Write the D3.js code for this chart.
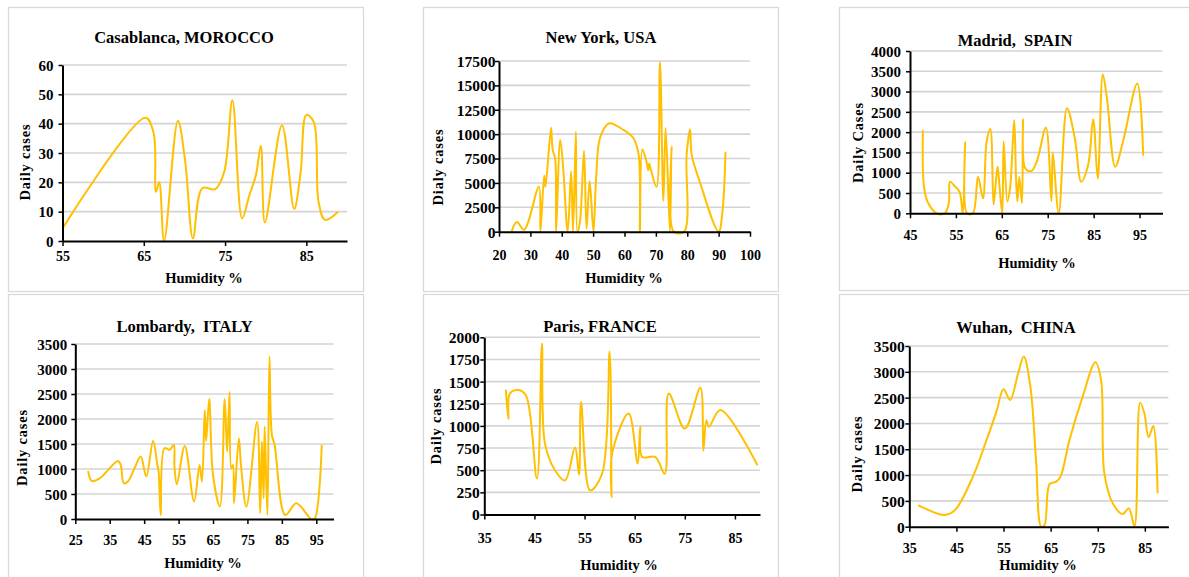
<!DOCTYPE html>
<html><head><meta charset="utf-8">
<script src="https://cdn.jsdelivr.net/npm/d3@7"></script>
<style>
body{margin:0;background:#fff;}
svg text{font-family:"Liberation Serif","Times New Roman",serif;font-weight:bold;fill:#000;}
</style></head><body>
<svg id="chart" width="1189" height="577"></svg>
<script>
// ---------------- DATA ----------------
const casablancaHumidity = [55, 65.2, 66.2, 66.5, 66.9, 67.5, 69.2, 70.1, 71.05, 72.2, 73.8, 74.9, 75.9, 77.1, 78, 78.8, 79.4, 79.9, 82, 83.5, 84.3, 85, 85.9, 86.5, 87.3, 88.9];
const casablancaCases    = [4.3, 42, 37, 16.8, 20, 0, 41, 27, 0.9, 18, 17.7, 23.6, 48, 7.7, 15.7, 22.5, 32.5, 6.3, 39.5, 10.9, 23.6, 43, 40.7, 13.4, 7.2, 10];

const newYorkHumidity = [24, 25.7, 28, 32.7, 33.2, 34.4, 34.8, 36.6, 37.1, 37.9, 38.2, 39.5, 40.4, 41.9, 43, 43.6, 44.5, 45, 45.8, 47.1, 47.9, 48.9, 50.1, 51, 52.2, 55, 59.6, 62.8, 64.5, 64.9, 65.7, 67, 67.6, 67.9, 68.3, 70.2, 71.3, 72.4, 73.1, 74.5, 75, 75.7, 79, 79.8, 80.9, 81.4, 83.8, 90, 91.2, 92.2];
const newYorkCases    = [0, 1000, 200, 4600, 0, 5750, 4600, 10650, 8400, 7500, 0, 9400, 6800, 0, 6200, 0, 10250, 0, 1000, 8300, 300, 5200, 0, 5800, 9600, 11100, 10450, 9600, 7900, 0, 8450, 7200, 6300, 7000, 6500, 4600, 17400, 3150, 10650, 0, 8700, 0, 0, 7900, 10500, 7900, 5300, 0, 2000, 8200];

const madridHumidity = [47.8, 48, 48.8, 50.8, 52.6, 53.5, 53.7, 54.8, 55.8, 56.5, 57, 57.4, 58.7, 59.8, 60.9, 61.7, 62.5, 63.2, 63.8, 64.1, 64.5, 65.1, 65.4, 66.2, 66.8, 67.7, 68.1, 68.4, 68.8, 69.4, 69.6, 70.1, 71.4, 72.6, 74.6, 75.8, 76.1, 77.4, 79.2, 80.9, 82.3, 83.8, 84.9, 85.9, 87, 87.9, 89.7, 91.4, 94.5, 95.8];
const madridCases    = [2050, 700, 290, 0, 0, 290, 780, 660, 530, 0, 1750, 0, 0, 900, 370, 1770, 2080, 220, 900, 1150, 660, 0, 1770, 290, 620, 2300, 860, 290, 900, 250, 2320, 1110, 1040, 1270, 2110, 300, 1500, 0, 2590, 1850, 780, 1190, 2320, 850, 3420, 2830, 1150, 1770, 3200, 1420];

const lombardyHumidity = [28.7, 29.8, 32.1, 37.4, 38.2, 39.1, 40.3, 42.2, 44, 45.6, 47.6, 48.8, 49.2, 49.8, 50.9, 52.4, 53.6, 53.8, 54.5, 56.8, 59.5, 61.1, 61.8, 62.6, 63, 63.9, 65, 67, 68.4, 69.1, 69.8, 70.3, 70.8, 71.1, 72.5, 73.2, 74.7, 77.8, 78.7, 79.2, 79.7, 80, 80.8, 81.4, 82.1, 82.9, 86, 89.2, 93.5, 94.5, 96.6];
const lombardyCases    = [960, 760, 815, 1160, 1080, 715, 750, 1015, 1250, 850, 1560, 1100, 950, 80, 1415, 1385, 1480, 1050, 695, 1460, 350, 1080, 750, 2180, 1560, 2400, 880, 250, 2400, 1350, 2540, 1015, 1080, 315, 1615, 1015, 250, 1940, 115, 1550, 415, 1850, 80, 3250, 1680, 1480, 80, 315, 0, 0, 1480];

const parisHumidity = [39.3, 39.8, 40.1, 41.8, 43.3, 45.5, 46.5, 47.1, 49.1, 51.1, 53.1, 53.9, 54.3, 56.1, 58.5, 60, 60.4, 60.5, 63.8, 65.6, 66.1, 66.5, 69.1, 71, 71.8, 75, 78.1, 78.7, 79.3, 79.8, 82.1, 89.5];
const parisCases    = [1410, 1080, 1365, 1405, 1345, 405, 1930, 800, 500, 385, 755, 450, 1270, 272, 460, 1840, 196, 690, 1140, 575, 990, 650, 650, 460, 1365, 970, 1430, 720, 1065, 990, 1180, 555];

const wuhanHumidity = [36.9, 38.3, 42.5, 44.7, 48.5, 51.4, 53.5, 55, 56.4, 58.1, 59.3, 60.7, 61.9, 63, 63.7, 64.8, 66.2, 67.1, 69, 71.8, 74.5, 75.7, 76.4, 78.2, 80.3, 81.6, 82.8, 84, 84.9, 85.8, 86.8, 87.7];
const wuhanCases    = [420, 355, 226, 323, 969, 1680, 2229, 2662, 2455, 2972, 3295, 2713, 1292, 0, 32, 827, 872, 970, 1680, 2520, 3185, 2843, 1034, 452, 245, 355, 13, 2403, 2196, 1731, 1951, 646];

// tick labels
const casablancaXTicks = [55, 65, 75, 85];
const casablancaYTicks = [0, 10, 20, 30, 40, 50, 60];
const newYorkXTicks = [20, 30, 40, 50, 60, 70, 80, 90, 100];
const newYorkYTicks = [0, 2500, 5000, 7500, 10000, 12500, 15000, 17500];
const madridXTicks = [45, 55, 65, 75, 85, 95];
const madridYTicks = [0, 500, 1000, 1500, 2000, 2500, 3000, 3500, 4000];
const lombardyXTicks = [25, 35, 45, 55, 65, 75, 85, 95];
const lombardyYTicks = [0, 500, 1000, 1500, 2000, 2500, 3000, 3500];
const parisXTicks = [35, 45, 55, 65, 75, 85];
const parisYTicks = [0, 250, 500, 750, 1000, 1250, 1500, 1750, 2000];
const wuhanXTicks = [35, 45, 55, 65, 75, 85];
const wuhanYTicks = [0, 500, 1000, 1500, 2000, 2500, 3000, 3500];

const titles = ["Casablanca, MOROCCO", "New York, USA", "Madrid,  SPAIN", "Lombardy,  ITALY", "Paris, FRANCE", "Wuhan,  CHINA"];
const yLabels = ["Daily cases", "Dialy cases", "Daily Cases", "Daily cases", "Daily cases", "Daily cases"];
const xLabel = "Humidity %";

// ---------------- LAYOUT ----------------
const panels = [
  {hum: casablancaHumidity, cases: casablancaCases, xt: casablancaXTicks, yt: casablancaYTicks, xd: [55, 90], yd: [0, 60],
   box: [8, 7, 355, 284], px: [62.5, 347], py: [241, 65], title: [184, 43], xl: [204, 283], yl: [24.5, 162], xOff: 14.7, yGap: 9, yfs: 15, xfs: 14},
  {hum: newYorkHumidity, cases: newYorkCases, xt: newYorkXTicks, yt: newYorkYTicks, xd: [20, 100], yd: [0, 17500],
   box: [423, 7, 355, 284], px: [499, 750], py: [231.7, 61], title: [601, 43], xl: [624, 283], yl: [437.5, 167], xOff: 23.3, yGap: 3.5, yfs: 15.5, xfs: 14},
  {hum: madridHumidity, cases: madridCases, xt: madridXTicks, yt: madridYTicks, xd: [45, 100], yd: [0, 4000],
   box: [839, 7, 360, 283], px: [910, 1162.5], py: [213.3, 51], title: [1015, 45.5], xl: [1037, 268], yl: [858, 142.5], xOff: 21.7, yGap: 9, yfs: 15, xfs: 14},
  {hum: lombardyHumidity, cases: lombardyCases, xt: lombardyXTicks, yt: lombardyYTicks, xd: [25, 100], yd: [0, 3500],
   box: [8, 294, 355, 290], px: [75.3, 333.5], py: [519, 344], title: [184.5, 331.5], xl: [203, 568], yl: [21.5, 447.5], xOff: 21, yGap: 8, yfs: 15, xfs: 14},
  {hum: parisHumidity, cases: parisCases, xt: parisXTicks, yt: parisYTicks, xd: [35, 90], yd: [0, 2000],
   box: [423, 294, 355, 290], px: [484.3, 760], py: [514.5, 337.3], title: [600, 331.5], xl: [619, 569.5], yl: [436, 426], xOff: 24, yGap: 4.5, yfs: 15.5, xfs: 14},
  {hum: wuhanHumidity, cases: wuhanCases, xt: wuhanXTicks, yt: wuhanYTicks, xd: [35, 90], yd: [0, 3500],
   box: [839, 294, 360, 290], px: [909.3, 1168.4], py: [526.7, 346], title: [1016, 332.5], xl: [1038, 569.5], yl: [857, 454], xOff: 21.6, yGap: 4.5, yfs: 15.5, xfs: 14}
];

const svg = d3.select("#chart");

panels.forEach((p, i) => {
  const g = svg.append("g");
  // panel frame
  g.append("rect").attr("x", p.box[0] + 0.5).attr("y", p.box[1] + 0.5)
    .attr("width", p.box[2]).attr("height", p.box[3])
    .attr("fill", "#fff").attr("stroke", "#d9d9d9").attr("stroke-width", 1.3);

  const x = d3.scaleLinear().domain(p.xd).range(p.px);
  const y = d3.scaleLinear().domain(p.yd).range(p.py);

  // gridlines
  g.append("g").selectAll("line").data(p.yt.filter(v => v > 0)).join("line")
    .attr("x1", p.px[0]).attr("x2", p.px[1])
    .attr("y1", d => y(d)).attr("y2", d => y(d))
    .attr("stroke", "#d4d4d4").attr("stroke-width", 1.6);

  // data line
  const pts = p.hum.map((h, k) => [h, p.cases[k]]);
  const line = d3.line().x(d => x(d[0])).y(d => y(d[1])).curve(d3.curveCatmullRom.alpha(0.5));
  g.append("path").datum(pts).attr("d", line)
    .attr("fill", "none").attr("stroke", "#FFC000").attr("stroke-width", 2).attr("stroke-linejoin", "round");

  // x axis
  const xAxis = g.append("g").attr("transform", `translate(0,${p.py[0]})`)
    .call(d3.axisBottom(x).tickValues(p.xt).tickSize(5).tickSizeOuter(0).tickFormat(d3.format("d")));
  xAxis.select(".domain").attr("stroke", "#000").attr("stroke-width", 2);
  xAxis.selectAll(".tick line").attr("stroke", "#000").attr("stroke-width", 1.5);
  xAxis.selectAll(".tick text").attr("y", p.xOff).attr("dy", "0.35em")
    .style("font-size", p.xfs + "px").style("font-family", "'Liberation Serif', serif").style("font-weight", "bold");

  // y axis
  const yAxis = g.append("g").attr("transform", `translate(${p.px[0]},0)`)
    .call(d3.axisLeft(y).tickValues(p.yt).tickSize(4).tickSizeOuter(0).tickFormat(d3.format("d")));
  yAxis.select(".domain").attr("stroke", "#000").attr("stroke-width", 2);
  yAxis.selectAll(".tick line").attr("stroke", "#000").attr("stroke-width", 1.5);
  yAxis.selectAll(".tick text").attr("x", -p.yGap).attr("dy", "0.35em")
    .style("font-size", p.yfs + "px").style("font-family", "'Liberation Serif', serif").style("font-weight", "bold");

  // titles
  g.append("text").attr("x", p.title[0]).attr("y", p.title[1]).attr("text-anchor", "middle")
    .style("font-size", "16.5px").style("white-space", "pre").text(titles[i]);
  g.append("text").attr("x", p.xl[0]).attr("y", p.xl[1]).attr("text-anchor", "middle")
    .style("font-size", "14.5px").text(xLabel);
  g.append("text").attr("transform", `translate(${p.yl[0]},${p.yl[1]}) rotate(-90)`)
    .attr("text-anchor", "middle").attr("dy", "0.35em")
    .style("font-size", "14.5px").style("letter-spacing", "0.8px").text(yLabels[i]);
});
</script>
</body></html>
